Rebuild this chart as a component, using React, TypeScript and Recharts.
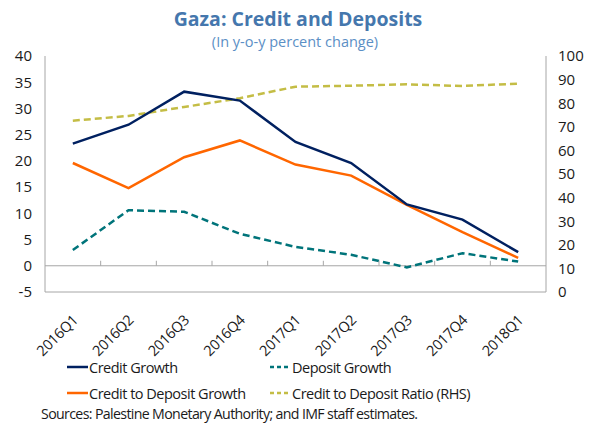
import { LineChart, Line, XAxis, YAxis, ReferenceLine } from "recharts";

const quarters = ["2016Q1", "2016Q2", "2016Q3", "2016Q4", "2017Q1", "2017Q2", "2017Q3", "2017Q4", "2018Q1"];
const creditGrowth = [23.3, 26.9, 33.2, 31.5, 23.6, 19.6, 11.7, 8.8, 2.6];
const depositGrowth = [3.0, 10.6, 10.3, 6.1, 3.6, 2.1, -0.3, 2.4, 0.8];
const creditToDepositGrowth = [19.6, 14.8, 20.7, 23.9, 19.3, 17.2, 11.6, 6.4, 1.5];
const creditToDepositRatio = [72.6, 74.6, 78.4, 82.1, 87.0, 87.4, 88.0, 87.3, 88.3];
const leftTicks = [-5, 0, 5, 10, 15, 20, 25, 30, 35, 40];
const rightTicks = [0, 10, 20, 30, 40, 50, 60, 70, 80, 90, 100];

const data = quarters.map((q, i) => ({
  q,
  credit: creditGrowth[i],
  deposit: depositGrowth[i],
  ctd: creditToDepositGrowth[i],
  ratio: creditToDepositRatio[i],
}));

const FONT = "'Open Sans', 'Noto Sans', sans-serif";
const GRAY = "#a6a6a6";
const TEXT = "#1a1a1a";

// layout of the plot box, used only for the little tick marks on the zero line
const PLOT_TOP = 56;
const PLOT_H = 236;
const PLOT_W = 501;
const ZERO_Y = PLOT_TOP + (PLOT_H * 40) / 45;

type TickProps = { x: number; y: number; payload: { value: string }; index: number };

function QuarterTick({ x, y, payload, index }: TickProps) {
  const half = PLOT_W / quarters.length / 2;
  const tx = x + 6;
  const ty = y + 21;
  return (
    <g>
      {index > 0 && (
        <line x1={x - half} x2={x - half} y1={ZERO_Y} y2={ZERO_Y - 5} stroke={GRAY} strokeWidth={1} />
      )}
      <text
        x={tx}
        y={ty}
        textAnchor="end"
        transform={`rotate(-45 ${tx} ${ty})`}
        fontSize={14.5}
        letterSpacing={-0.3}
        fill={TEXT}
        fontFamily={FONT}
      >
        {payload.value}
      </text>
    </g>
  );
}

const legendItems = [
  { label: "Credit Growth", color: "#002060", dash: undefined },
  { label: "Deposit Growth", color: "#00747a", dash: "4 3" },
  { label: "Credit to Deposit Growth", color: "#ff6600", dash: undefined },
  { label: "Credit to Deposit Ratio (RHS)", color: "#c4bd45", dash: "4 3" },
];

function ChartLegend() {
  return (
    <div
      style={{
        display: "grid",
        gridTemplateColumns: "203px 280px",
        rowGap: 4,
        paddingLeft: 67,
        fontFamily: FONT,
        fontSize: 14.5,
        letterSpacing: -0.5,
        color: TEXT,
      }}
    >
      {legendItems.map((it) => (
        <div key={it.label} style={{ display: "flex", alignItems: "center", height: 22 }}>
          <svg width={21} height={4} style={{ marginRight: 1 }}>
            <line x1={0} x2={21} y1={2} y2={2} stroke={it.color} strokeWidth={2.5} strokeDasharray={it.dash} />
          </svg>
          <span>{it.label}</span>
        </div>
      ))}
    </div>
  );
}

export default function App() {
  return (
    <div style={{ position: "absolute", left: 0, top: 0, width: 590, height: 424, background: "#fff", fontFamily: FONT }}>
      <div style={{ position: "absolute", top: 5, width: 596, textAlign: "center", fontSize: 19.5, fontWeight: 700, color: "#4577ad" }}>
        Gaza: Credit and Deposits
      </div>
      <div style={{ position: "absolute", top: 32, width: 590, textAlign: "center", fontSize: 14.5, color: "#5b8fc5" }}>
        (In y-o-y percent change)
      </div>
      <div style={{ position: "absolute", top: 0, left: 0 }}>
        <LineChart width={590} height={360} data={data} margin={{ top: PLOT_TOP, right: 0, bottom: 0, left: 0 }}>
          <XAxis xAxisId="top" orientation="top" dataKey="q" scale="band" height={0} tick={false} tickLine={false} axisLine={{ stroke: GRAY }} />
          <XAxis
            dataKey="q"
            scale="band"
            height={68}
            interval={0}
            tickLine={false}
            axisLine={{ stroke: GRAY }}
            tick={(p: any) => <QuarterTick {...p} />}
          />
          <YAxis
            yAxisId="left"
            width={45}
            domain={[-5, 40]}
            ticks={leftTicks}
            interval={0}
            tickLine={false}
            tickMargin={7}
            axisLine={{ stroke: GRAY }}
            tick={{ fontSize: 15, fill: TEXT, fontFamily: FONT }}
          />
          <YAxis
            yAxisId="right"
            orientation="right"
            width={44}
            domain={[0, 100]}
            ticks={rightTicks}
            interval={0}
            tickLine={false}
            tickMargin={6}
            axisLine={{ stroke: GRAY }}
            tick={{ fontSize: 15, fill: TEXT, fontFamily: FONT, textAnchor: "start" }}
          />
          <ReferenceLine yAxisId="left" y={0} stroke={GRAY} strokeWidth={1} />
          <Line yAxisId="right" dataKey="ratio" stroke="#c4bd45" strokeWidth={2.5} strokeDasharray="7 4" dot={false} isAnimationActive={false} />
          <Line yAxisId="left" dataKey="deposit" stroke="#00747a" strokeWidth={2.5} strokeDasharray="7 4" dot={false} isAnimationActive={false} />
          <Line yAxisId="left" dataKey="ctd" stroke="#ff6600" strokeWidth={2.5} dot={false} isAnimationActive={false} />
          <Line yAxisId="left" dataKey="credit" stroke="#002060" strokeWidth={2.5} dot={false} isAnimationActive={false} />
        </LineChart>
      </div>
      <div style={{ position: "absolute", top: 356, left: 0 }}>
        <ChartLegend />
      </div>
      <div style={{ position: "absolute", top: 404, left: 41, fontSize: 14.2, letterSpacing: -0.65, color: TEXT }}>
        Sources: Palestine Monetary Authority; and IMF staff estimates.
      </div>
    </div>
  );
}
